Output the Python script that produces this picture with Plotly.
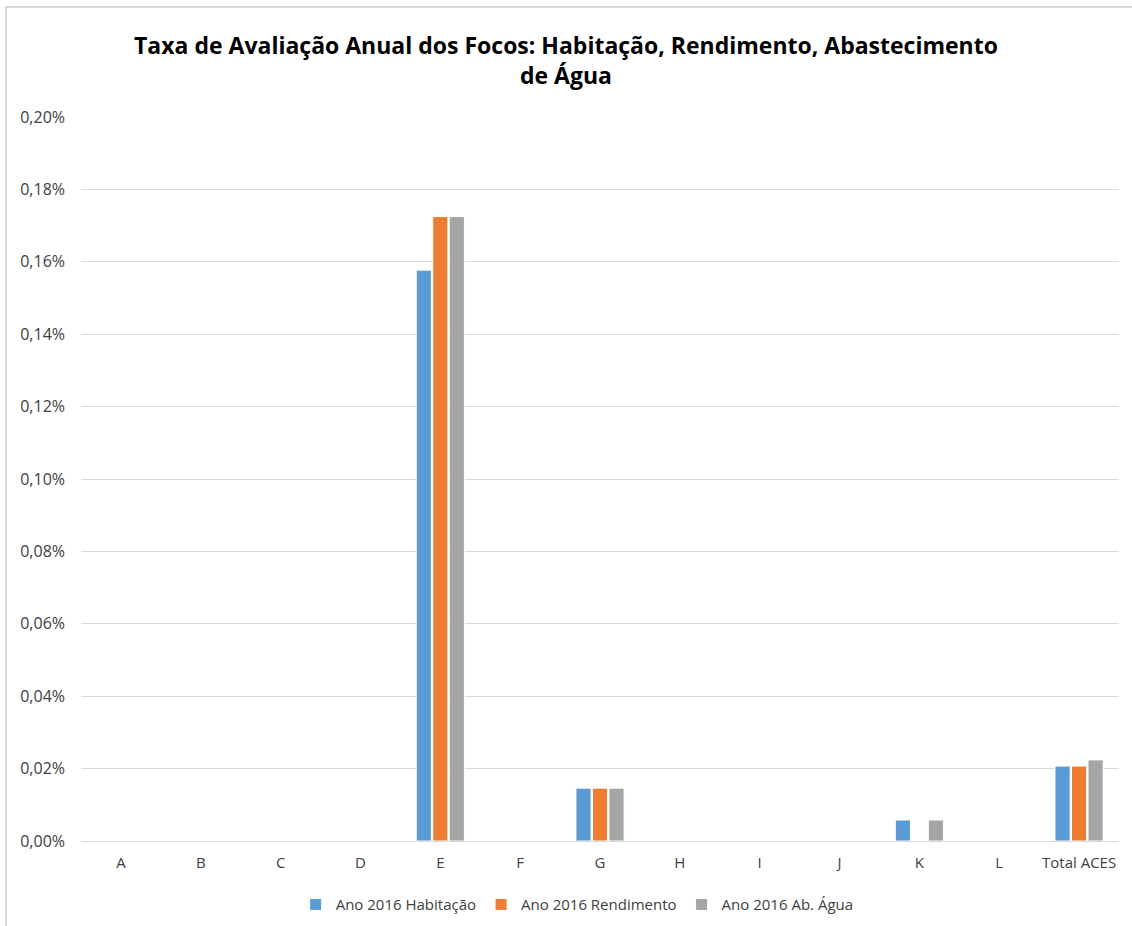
import plotly.graph_objects as go

categories = ["A", "B", "C", "D", "E", "F", "G", "H", "I", "J", "K", "L", "Total ACES"]
habitacao = [0, 0, 0, 0, 0.001577, 0, 0.000146, 0, 0, 0, 0.000058, 0, 0.000207]
rendimento = [0, 0, 0, 0, 0.001725, 0, 0.000146, 0, 0, 0, 0, 0, 0.000207]
ab_agua = [0, 0, 0, 0, 0.001725, 0, 0.000146, 0, 0, 0, 0.000058, 0, 0.000224]
series_names = ["Ano 2016 Habitação", "Ano 2016 Rendimento", "Ano 2016 Ab. Água"]
colors = ["#5b9bd5", "#ed7d31", "#a5a5a5"]
tick_vals = [0, 0.0002, 0.0004, 0.0006, 0.0008, 0.0010, 0.0012, 0.0014, 0.0016, 0.0018, 0.0020]
tick_text = ["0,00%", "0,02%", "0,04%", "0,06%", "0,08%", "0,10%", "0,12%", "0,14%", "0,16%", "0,18%", "0,20%"]

fig = go.Figure()
for name, vals, col in zip(series_names, [habitacao, rendimento, ab_agua], colors):
    fig.add_trace(go.Bar(
        x=categories, y=vals, name=name,
        marker=dict(color=col, line=dict(color="white", width=1)),
    ))

font_family = "Open Sans, Liberation Sans, sans-serif"

fig.update_layout(
    width=1132, height=926,
    margin=dict(l=81, r=13, t=117, b=85),
    paper_bgcolor="white", plot_bgcolor="white",
    barmode="group", bargap=0.38, bargroupgap=0.08,
    font=dict(family=font_family, size=15, color="#595959"),
    title=dict(
        text="<b>Taxa de Avaliação Anual dos Focos: Habitação, Rendimento, Abastecimento<br>de Água</b>",
        x=0.5, xanchor="center", y=0.942, yanchor="top",
        font=dict(family=font_family, size=23, color="#000000"),
    ),
    xaxis=dict(
        showgrid=False, showline=True, linecolor="#d9d9d9", linewidth=1,
        ticks="", tickfont=dict(size=15, color="#404040"),
        ticklabelstandoff=8,
    ),
    yaxis=dict(
        range=[0, 0.0020], tickvals=tick_vals, ticktext=tick_text,
        showgrid=True, gridcolor="#d9d9d9", gridwidth=1,
        zeroline=False, showline=False, ticks="",
        tickfont=dict(size=16, color="#404040"),
        ticklabelstandoff=15,
    ),
    legend=dict(
        orientation="h", x=0.478, xanchor="center",
        yref="container", y=0.023, yanchor="middle",
        font=dict(size=15, color="#404040"), traceorder="normal",
        itemwidth=30,
    ),
    shapes=[dict(
        type="rect", xref="paper", yref="paper",
        x0=(6 - 81) / 1038, x1=(1140 - 81) / 1038,
        y0=(841 - 935) / 724, y1=(841 - 7) / 724,
        line=dict(color="#d9d9d9", width=2), fillcolor="rgba(0,0,0,0)",
        layer="below",
    )],
)

fig.write_html("out.html")
